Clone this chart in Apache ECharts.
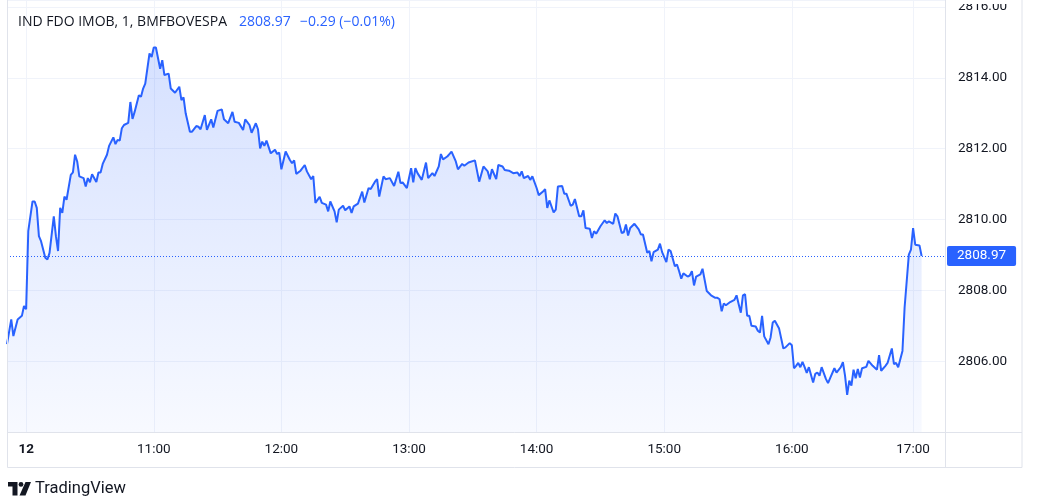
<!DOCTYPE html>
<html>
<head>
<meta charset="utf-8">
<script src="https://cdn.jsdelivr.net/npm/echarts@6/dist/echarts.min.js"></script>
<style>
html,body{margin:0;padding:0;background:#fff;}
#c{width:1037px;height:503px;}
</style>
</head>
<body>
<div id="c"></div>
<script>
// ---- data ----
const symbolText = 'IND FDO IMOB, 1, BMFBOVESPA';
const lastPrice = 2808.97;
const changeText = '\u22120.29 (\u22120.01%)';

// 1-minute bar sessions on the time scale (day, first bar, last bar)
const sessions = [
  ['11', '16:53', '16:55'], ['11', '16:59', '17:04'],
  ['12', '10:00', '16:55'], ['12', '16:59', '17:15']
];

const yTicks = [2806, 2808, 2810, 2812, 2814, 2816];

const times = [
 '11 16:53','11 16:55','11 16:59','11 17:01','11 17:03','11 17:04',
 '12 10:00','12 10:01','12 10:03','12 10:04','12 10:05','12 10:06','12 10:07','12 10:09','12 10:10','12 10:11',
 '12 10:13','12 10:14','12 10:15','12 10:16','12 10:17','12 10:18','12 10:19','12 10:21','12 10:22','12 10:23',
 '12 10:24','12 10:25','12 10:27','12 10:28','12 10:29','12 10:30','12 10:31','12 10:33','12 10:34','12 10:35',
 '12 10:36','12 10:38','12 10:39','12 10:41','12 10:42','12 10:43','12 10:44','12 10:45','12 10:46','12 10:48',
 '12 10:49','12 10:50','12 10:51','12 10:53','12 10:54','12 10:55','12 10:56','12 10:58','12 10:59','12 11:00',
 '12 11:01','12 11:03','12 11:04','12 11:05','12 11:07','12 11:08','12 11:10','12 11:12','12 11:13','12 11:14',
 '12 11:15','12 11:17','12 11:18','12 11:20','12 11:21','12 11:22','12 11:24','12 11:25','12 11:27','12 11:28',
 '12 11:30','12 11:32','12 11:33','12 11:35','12 11:37','12 11:38','12 11:40','12 11:42','12 11:43','12 11:45',
 '12 11:46','12 11:48','12 11:49','12 11:50','12 11:51','12 11:52','12 11:53','12 11:55','12 11:57','12 11:58',
 '12 11:59','12 12:00','12 12:02','12 12:04','12 12:05','12 12:06','12 12:07','12 12:09','12 12:11','12 12:12',
 '12 12:14','12 12:15','12 12:16','12 12:18','12 12:19','12 12:21','12 12:22','12 12:23','12 12:25','12 12:26',
 '12 12:27','12 12:29','12 12:30','12 12:32','12 12:33','12 12:34','12 12:36','12 12:38','12 12:39','12 12:41',
 '12 12:42','12 12:44','12 12:45','12 12:46','12 12:48','12 12:49','12 12:51','12 12:53','12 12:55','12 12:56',
 '12 12:57','12 12:59','12 13:01','12 13:02','12 13:03','12 13:04','12 13:06','12 13:08','12 13:09','12 13:11',
 '12 13:12','12 13:14','12 13:15','12 13:16','12 13:18','12 13:19','12 13:20','12 13:22','12 13:23','12 13:25',
 '12 13:26','12 13:28','12 13:31','12 13:33','12 13:35','12 13:37','12 13:38','12 13:39','12 13:41','12 13:42',
 '12 13:44','12 13:45','12 13:47','12 13:49','12 13:51','12 13:52','12 13:53','12 13:54','12 13:56','12 13:57',
 '12 13:58','12 14:00','12 14:01','12 14:03','12 14:04','12 14:05','12 14:06','12 14:08','12 14:09','12 14:10',
 '12 14:12','12 14:13','12 14:14','12 14:16','12 14:17','12 14:18','12 14:20','12 14:21','12 14:22','12 14:23',
 '12 14:25','12 14:26','12 14:27','12 14:28','12 14:30','12 14:32','12 14:33','12 14:34','12 14:36','12 14:37',
 '12 14:38','12 14:40','12 14:41','12 14:42','12 14:43','12 14:44','12 14:46','12 14:48','12 14:49','12 14:50',
 '12 14:52','12 14:53','12 14:54','12 14:55','12 14:57','12 14:58','12 14:59','12 15:01','12 15:02','12 15:03',
 '12 15:05','12 15:06','12 15:07','12 15:08','12 15:09','12 15:11','12 15:12','12 15:13','12 15:14','12 15:15',
 '12 15:17','12 15:18','12 15:20','12 15:22','12 15:24','12 15:25','12 15:26','12 15:27','12 15:28','12 15:29',
 '12 15:31','12 15:33','12 15:34','12 15:35','12 15:36','12 15:37','12 15:38','12 15:39','12 15:40','12 15:41',
 '12 15:43','12 15:44','12 15:45','12 15:46','12 15:47','12 15:49','12 15:50','12 15:51','12 15:52','12 15:54',
 '12 15:56','12 15:57','12 15:59','12 16:00','12 16:01','12 16:02','12 16:03','12 16:04','12 16:05','12 16:06',
 '12 16:07','12 16:08','12 16:10','12 16:11','12 16:12','12 16:13','12 16:14','12 16:16','12 16:17','12 16:18',
 '12 16:20','12 16:21','12 16:23','12 16:24','12 16:25','12 16:26','12 16:27','12 16:28','12 16:29','12 16:30',
 '12 16:31','12 16:32','12 16:33','12 16:35','12 16:36','12 16:38','12 16:40','12 16:41','12 16:42','12 16:44',
 '12 16:45','12 16:47','12 16:48','12 16:49','12 16:50','12 16:52','12 16:53','12 16:55','12 16:59','12 17:00',
 '12 17:01','12 17:03','12 17:04'
];

const prices = [
 2806.48,2807.18,2806.71,2807.18,2807.28,2807.56,
 2807.47,2809.67,2810.51,2810.51,2810.33,2809.53,2809.39,2808.92,2808.87,2809.06,
 2810.09,2809.53,2809.11,2810.33,2810.19,2810.65,2810.56,2811.26,2811.33,2811.83,
 2811.64,2811.22,2811.17,2810.93,2811.17,2811.05,2811.28,2811.06,2811.33,2811.33,
 2811.57,2811.83,2812.08,2812.32,2812.13,2812.25,2812.23,2812.58,2812.67,2812.73,
 2813.32,2812.84,2813.04,2813.51,2813.47,2813.70,2813.84,2814.69,2814.59,2814.86,
 2814.86,2814.26,2814.50,2814.08,2814.12,2813.70,2813.58,2813.75,2813.37,2813.45,
 2813.00,2812.48,2812.48,2812.64,2812.62,2812.55,2812.95,2812.53,2812.83,2812.60,
 2813.07,2813.11,2812.83,2812.72,2813.04,2812.76,2812.73,2812.53,2812.83,2812.67,
 2812.45,2812.72,2812.55,2812.01,2812.20,2812.08,2812.23,2811.87,2811.97,2811.85,
 2811.89,2811.42,2811.92,2811.68,2811.59,2811.67,2811.29,2811.38,2811.54,2811.36,
 2811.14,2811.23,2810.47,2810.64,2810.47,2810.42,2810.23,2810.51,2810.23,2809.92,
 2810.28,2810.39,2810.26,2810.37,2810.19,2810.37,2810.45,2810.79,2810.48,2810.89,
 2810.86,2811.07,2811.14,2810.65,2811.22,2811.14,2811.17,2810.95,2811.35,2811.03,
 2811.05,2810.89,2811.45,2811.05,2811.45,2811.31,2811.12,2811.61,2811.17,2811.31,
 2811.23,2811.50,2811.85,2811.70,2811.78,2811.85,2811.92,2811.64,2811.42,2811.57,
 2811.52,2811.61,2811.67,2811.07,2811.50,2811.36,2811.14,2811.42,2811.14,2811.54,
 2811.50,2811.40,2811.38,2811.31,2811.33,2811.23,2811.36,2811.17,2811.23,2811.12,
 2811.22,2810.89,2810.69,2810.79,2810.86,2810.33,2810.54,2810.20,2810.28,2810.93,
 2810.95,2810.73,2810.73,2810.39,2810.42,2810.58,2810.09,2810.09,2810.26,2809.76,
 2809.74,2809.48,2809.67,2809.60,2809.81,2809.98,2809.90,2809.95,2809.88,2810.17,
 2810.09,2809.62,2809.64,2809.86,2809.55,2809.76,2809.88,2809.72,2809.58,2809.58,
 2809.06,2809.11,2808.82,2809.08,2809.15,2809.32,2809.08,2808.80,2809.15,2809.11,
 2808.68,2808.73,2808.54,2808.33,2808.48,2808.39,2808.42,2808.54,2808.14,2808.39,
 2808.45,2808.61,2807.98,2807.86,2807.79,2807.79,2807.75,2807.41,2807.63,2807.58,
 2807.67,2807.73,2807.86,2807.61,2807.37,2807.86,2807.89,2807.28,2807.28,2807.00,
 2806.98,2806.86,2806.81,2807.28,2806.70,2806.48,2806.67,2807.09,2807.14,2806.92,
 2806.36,2806.39,2806.51,2806.45,2805.80,2805.87,2805.95,2805.83,2805.98,2805.83,
 2805.67,2805.83,2805.40,2805.64,2805.68,2805.59,2805.83,2805.50,2805.38,2805.52,
 2805.80,2805.68,2805.83,2805.97,2805.59,2805.05,2805.45,2805.31,2805.76,2805.52,
 2805.78,2805.54,2805.80,2805.84,2806.01,2805.87,2805.76,2806.17,2805.73,2805.87,
 2805.95,2806.36,2805.92,2805.95,2805.83,2806.29,2807.51,2809.01,2809.15,2809.76,
 2809.29,2809.27,2808.97
];

// ---- build category list of bar times ----
function toMin(s){ const p = s.split(':'); return (+p[0])*60 + (+p[1]); }
function fmt(m){ const h = Math.floor(m/60), mm = m%60; return (h<10?'0':'')+h+':'+(mm<10?'0':'')+mm; }
const categories = [];
sessions.forEach(([d, a, b]) => {
  for (let m = toMin(a); m <= toMin(b); m++) categories.push(d + ' ' + fmt(m));
});
const seriesData = times.map((t, i) => [t, prices[i]]);

const FONT = 'Roboto, "Liberation Sans", sans-serif';
const HFONT = '"Open Sans", Roboto, sans-serif';
const TXT = '#131722';
const BLUE = '#2962ff';
const isHour = (idx, v) => typeof v === 'string' && v.indexOf('12 ') === 0 && v.slice(-3) === ':00';

const chart = echarts.init(document.getElementById('c'), null, {renderer: 'canvas'});
chart.setOption({
  animation: false,
  backgroundColor: '#ffffff',
  textStyle: {fontFamily: FONT},
  grid: {left: 7, right: 92, top: 0, bottom: 71, containLabel: false},
  xAxis: {
    type: 'category',
    data: categories,
    boundaryGap: false,
    axisLine: {show: false},
    axisTick: {show: false, interval: isHour},
    axisLabel: {
      interval: isHour,
      margin: 11,
      color: TXT,
      fontSize: 13.5,
      fontFamily: FONT,
      formatter: (v) => {
        const d = v.slice(0, 2), t = v.slice(3);
        return t === '10:00' ? '{b|' + d + '}' : t;
      },
      rich: {b: {fontWeight: 'bold', fontSize: 13.5, color: TXT, fontFamily: FONT}}
    },
    splitLine: {show: true, interval: isHour, lineStyle: {color: '#f0f3fa', width: 1}}
  },
  yAxis: {
    type: 'value',
    position: 'right',
    min: 2804,
    max: 2816.2,
    interval: 2,
    axisLine: {show: false},
    axisTick: {show: false},
    axisLabel: {
      margin: 13,
      color: TXT,
      fontSize: 13.5,
      fontFamily: FONT,
      formatter: (v) => yTicks.some(t => Math.abs(t - v) < 1e-6) ? v.toFixed(2) : ''
    },
    splitLine: {show: true, lineStyle: {color: '#f0f3fa', width: 1}}
  },
  series: [{
    type: 'line',
    data: seriesData,
    showSymbol: false,
    symbol: 'none',
    smooth: false,
    lineStyle: {color: BLUE, width: 2},
    itemStyle: {color: BLUE},
    areaStyle: {
      color: new echarts.graphic.LinearGradient(0, 0, 0, 1, [
        {offset: 0, color: 'rgba(41,98,255,0.28)'},
        {offset: 1, color: 'rgba(41,98,255,0.05)'}
      ])
    },
    markLine: {
      silent: true,
      symbol: ['none', 'none'],
      animation: false,
      lineStyle: {color: BLUE, type: [1, 2], width: 1},
      label: {
        show: true,
        position: 'end',
        distance: 2,
        formatter: () => lastPrice.toFixed(2),
        color: '#ffffff',
        fontSize: 13.5,
        fontFamily: FONT,
        backgroundColor: BLUE,
        padding: [3, 10, 3, 10],
        borderRadius: 2
      },
      emphasis: {disabled: true},
      data: [{yAxis: lastPrice}]
    }
  }],
  graphic: [
    // clip the top of the price scale like the reference screenshot
    {type: 'rect', silent: true, z: 40, shape: {x: 946, y: 0, width: 75, height: 4},
     style: {fill: '#ffffff'}},
    {type: 'rect', silent: true, z: 50, shape: {x: 7.5, y: -2, width: 1014.5, height: 469.5},
     style: {fill: 'none', stroke: '#e0e3eb', lineWidth: 1}},
    {type: 'line', silent: true, z: 50, shape: {x1: 945.5, y1: 0, x2: 945.5, y2: 467},
     style: {stroke: '#e0e3eb', lineWidth: 1}},
    {type: 'line', silent: true, z: 50, shape: {x1: 7, y1: 432.5, x2: 1022, y2: 432.5},
     style: {stroke: '#e0e3eb', lineWidth: 1}},
    {type: 'text', silent: true, z: 60, x: 18, y: 22,
     style: {text: symbolText, fill: TXT, font: '14px ' + HFONT, verticalAlign: 'middle'}},
    {type: 'text', silent: true, z: 60, x: 239, y: 22,
     style: {text: lastPrice.toFixed(2), fill: BLUE, font: '14px ' + HFONT, verticalAlign: 'middle'}},
    {type: 'text', silent: true, z: 60, x: 300, y: 22,
     style: {text: changeText, fill: BLUE, font: '14px ' + HFONT, verticalAlign: 'middle'}},
    // TradingView logo
    {type: 'polygon', silent: true, z: 60, shape: {points: [[8,482],[17.5,482],[17.5,495.5],[12.5,495.5],[12.5,486.5],[8,486.5]]},
     style: {fill: TXT}},
    {type: 'circle', silent: true, z: 60, shape: {cx: 21, cy: 484.4, r: 2.4}, style: {fill: TXT}},
    {type: 'polygon', silent: true, z: 60, shape: {points: [[25.5,482],[31,482],[25.5,495.5],[19.5,495.5]]},
     style: {fill: TXT}},
    {type: 'text', silent: true, z: 60, x: 35, y: 489,
     style: {text: 'TradingView', fill: TXT, font: '16.5px ' + FONT, verticalAlign: 'middle'}}
  ]
});
</script>
</body>
</html>
